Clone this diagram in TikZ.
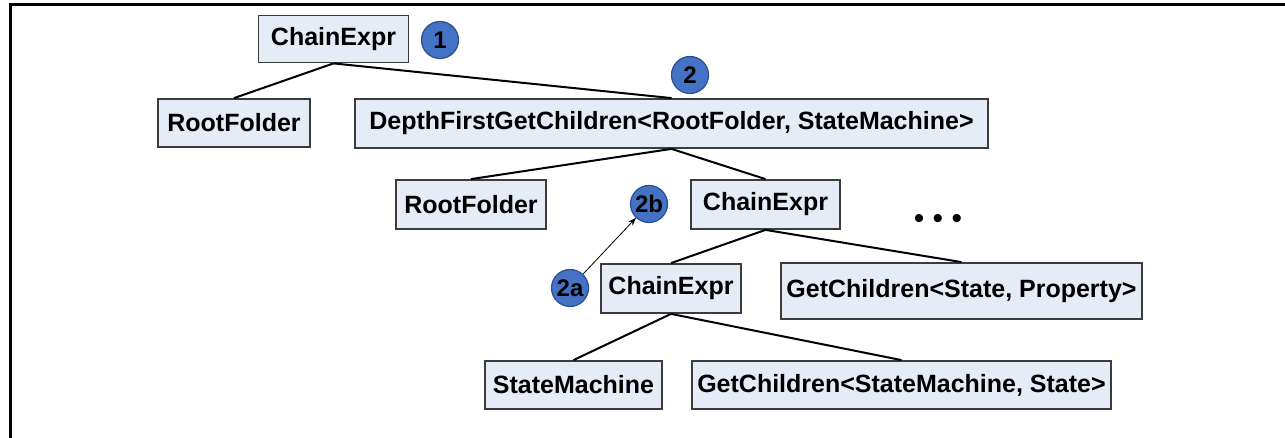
\documentclass[tikz,border=0pt]{standalone}
\usepackage{fontspec}
\setmainfont{Liberation Sans}
\usetikzlibrary{arrows.meta}
\definecolor{boxfill}{HTML}{E6ECF6}
\definecolor{boxline}{HTML}{3C3C3C}
\definecolor{circfill}{HTML}{4472C4}
\definecolor{circline}{HTML}{2B4F8E}
\begin{document}
\begin{tikzpicture}[x=1pt,y=-1pt,
  treebox/.style={draw=boxline, fill=boxfill, line width=1.8pt, inner sep=0pt,
    font=\fontsize{25}{30}\selectfont\bfseries, anchor=center},
  marker/.style={circle, draw=circline, fill=circfill, line width=1.2pt, inner sep=0pt,
    minimum size=37pt, font=\fontsize{24}{28}\selectfont\bfseries},
  edge/.style={line width=2pt, black},
  frameline/.style={line width=3pt, black}]
\useasboundingbox (0,0) rectangle (1285,438);
% frame
\coordinate (fbl) at (10,440);
\coordinate (ftl) at (10,5);
\coordinate (ftr) at (1287,5);
\draw[frameline] (fbl) -- (ftl) -- (ftr);
% boxes
\node[treebox, minimum width=150pt, minimum height=47pt] (top) at (333.5,39) {ChainExpr};
\node[treebox, minimum width=152pt, minimum height=48pt] (rf1) at (234,123) {RootFolder};
\node[treebox, minimum width=633pt, minimum height=49pt] (dfs) at (671.5,123.5) {DepthFirstGetChildren<RootFolder, StateMachine>};
\node[treebox, minimum width=150pt, minimum height=49pt] (rf2) at (471,204.5) {RootFolder};
\node[treebox, minimum width=149pt, minimum height=49pt] (ce2) at (765.5,204.5) {ChainExpr};
\node[treebox, minimum width=140pt, minimum height=49pt] (ce3) at (671,288.5) {ChainExpr};
\node[treebox, minimum width=361pt, minimum height=56pt] (gcsp) at (961.5,291) {GetChildren<State, Property>};
\node[treebox, minimum width=177pt, minimum height=48pt] (sm) at (573.5,385) {StateMachine};
\node[treebox, minimum width=419pt, minimum height=48pt] (gcsm) at (901.5,385) {GetChildren<StateMachine, State>};
% edges
\draw[edge] (top.south) -- (rf1.north);
\draw[edge] (top.south) -- (dfs.north);
\draw[edge] (dfs.south) -- (rf2.north);
\draw[edge] (dfs.south) -- (ce2.north);
\draw[edge] (ce2.south) -- (ce3.north);
\draw[edge] (ce2.south) -- (gcsp.north);
\draw[edge] (ce3.south) -- (sm.north);
\draw[edge] (ce3.south) -- (gcsm.north);
% markers
\node[marker] (m1) at (440,40) {1};
\node[marker] (m2) at (690,75) {2};
\node[marker] (m2b) at (649,204) {2b};
\node[marker] (m2a) at (570,288) {2a};
\draw[line width=0.8pt, -{Stealth[length=8pt,width=6pt]}] (m2a) -- (m2b);
% ellipsis
\node[font=\fontsize{30}{34}\selectfont] (more) at (938,221) {• • •};
\end{tikzpicture}
\end{document}
